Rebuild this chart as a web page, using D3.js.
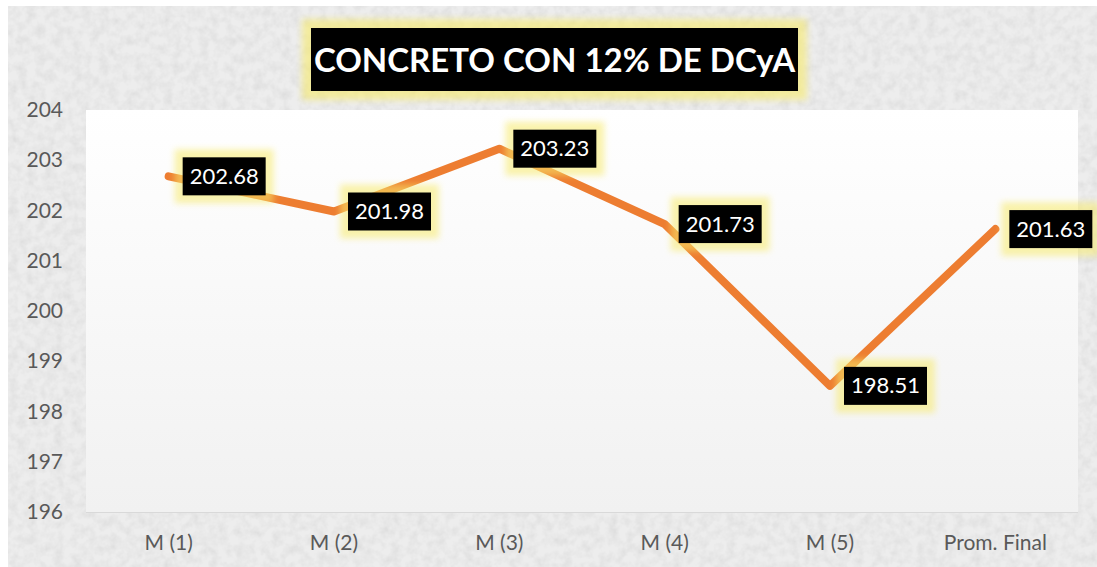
<!DOCTYPE html>
<html><head><meta charset="utf-8">
<script src="https://cdn.jsdelivr.net/npm/d3@7"></script>
<style>body{margin:0;background:#fff;}svg{display:block;}</style>
</head><body>
<script>
const categories = ["M (1)", "M (2)", "M (3)", "M (4)", "M (5)", "Prom. Final"];
const values = [202.68, 201.98, 203.23, 201.73, 198.51, 201.63];
const yTicks = [196, 197, 198, 199, 200, 201, 202, 203, 204];
const title = "CONCRETO CON 12% DE DCyA";

const W = 1097, H = 567;
const m = {left: 86, top: 110, right: 1078, bottom: 512};
const svg = d3.select("body").append("svg").attr("width", W).attr("height", H);
const defs = svg.append("defs");

// granite texture
const tex = defs.append("filter").attr("id", "tex").attr("x", 0).attr("y", 0).attr("width", 1).attr("height", 1);
tex.append("feTurbulence").attr("type", "fractalNoise").attr("baseFrequency", 0.11).attr("numOctaves", 3).attr("seed", 4).attr("result", "n");
tex.append("feColorMatrix").attr("in", "n").attr("type", "matrix")
  .attr("values", "0 0 0 0 0.6  0 0 0 0 0.6  0 0 0 0 0.6  0.8 0 0 0 -0.27").attr("result", "c");
tex.append("feComposite").attr("in", "c").attr("in2", "SourceGraphic").attr("operator", "over");

const glow = defs.append("filter").attr("id", "glow").attr("x", -0.5).attr("y", -0.5).attr("width", 2).attr("height", 2);
glow.append("feGaussianBlur").attr("stdDeviation", 3);

const grad = defs.append("linearGradient").attr("id", "pg").attr("x1", 0).attr("y1", 0).attr("x2", 0).attr("y2", 1);
grad.append("stop").attr("offset", 0).attr("stop-color", "#ffffff");
grad.append("stop").attr("offset", 1).attr("stop-color", "#f1f1f1");

svg.append("rect").attr("x", 8).attr("y", 6).attr("width", W - 8).attr("height", H - 6)
  .attr("fill", "#ededed").attr("filter", "url(#tex)");

// plot area
svg.append("rect").attr("x", m.left).attr("y", m.top).attr("width", m.right - m.left).attr("height", m.bottom - m.top)
  .attr("fill", "url(#pg)");
svg.append("line").attr("x1", m.left).attr("x2", m.right).attr("y1", m.bottom + 0.5).attr("y2", m.bottom + 0.5)
  .attr("stroke", "#d9d9d9").attr("stroke-width", 1);

const x = d3.scaleBand().domain(categories).range([m.left, m.right]);
const y = d3.scaleLinear().domain([196, 204]).range([m.bottom, m.top]);

const font = "Lato, 'Open Sans', sans-serif";

// y axis labels
const yAxis = svg.append("g").attr("transform", `translate(${m.left - 23},0)`)
  .call(d3.axisLeft(y).tickValues(yTicks).tickSize(0).tickPadding(0).tickFormat(d3.format("d")));
yAxis.select(".domain").remove();
yAxis.selectAll("text").attr("font-family", font).attr("font-size", 21).attr("fill", "#595959");

// x axis labels
const xAxis = svg.append("g").attr("transform", `translate(0,${m.bottom + 23})`)
  .call(d3.axisBottom(x).tickSize(0).tickPadding(0));
xAxis.select(".domain").remove();
xAxis.selectAll("text").attr("font-family", font).attr("font-size", 21).attr("fill", "#595959");

// line
const cx = d => x(d) + x.bandwidth() / 2;
const line = d3.line().x((d, i) => cx(categories[i])).y(d => y(d));
svg.append("path").datum(values).attr("d", line).attr("fill", "none")
  .attr("stroke", "#ED7D31").attr("stroke-width", 8).attr("stroke-linecap", "round").attr("stroke-linejoin", "round");

// data labels
const bw = 83, bh = 38;
const lab = svg.append("g").selectAll("g").data(values).join("g")
  .attr("transform", (d, i) => `translate(${cx(categories[i]) + 14},${y(d) - bh / 2})`);
lab.append("rect").attr("x", -8).attr("y", -8).attr("width", bw + 16).attr("height", bh + 16)
  .attr("fill", "#f7ea6a").attr("opacity", 0.55).attr("filter", "url(#glow)");
lab.append("rect").attr("width", bw).attr("height", bh).attr("fill", "#000");
lab.append("text").attr("x", bw / 2).attr("y", bh / 2 + 7.5).attr("text-anchor", "middle")
  .attr("font-family", font).attr("font-size", 22).attr("fill", "#fff")
  .text(d => d.toFixed(2));

// title
const tg = svg.append("g").attr("transform", "translate(311,28)");
tg.append("rect").attr("x", -9).attr("y", -9).attr("width", 487 + 18).attr("height", 63 + 18)
  .attr("fill", "#f7ea6a").attr("opacity", 0.6).attr("filter", "url(#glow)");
tg.append("rect").attr("width", 487).attr("height", 63).attr("fill", "#000");
tg.append("text").attr("x", 487 / 2).attr("y", 44).attr("text-anchor", "middle")
  .attr("font-family", font).attr("font-weight", "bold").attr("font-size", 33).attr("fill", "#fff")
  .text(title);
</script>
</body></html>
